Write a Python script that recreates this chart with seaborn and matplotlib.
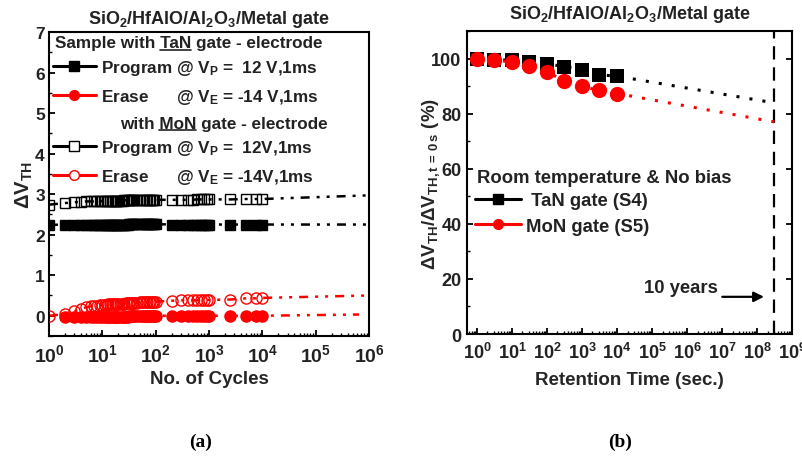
import numpy as np
import matplotlib
matplotlib.use("Agg")
import matplotlib.pyplot as plt
from matplotlib.lines import Line2D
from matplotlib.ticker import LogLocator, FixedLocator, MultipleLocator, NullFormatter
import seaborn as sns

# ---------------- data ----------------
cycles = [1, 2, 3, 4, 5, 6, 7, 8, 9, 10, 11, 12, 13, 14, 15, 16, 17, 18, 19, 20,
          22, 24, 26, 28, 30, 32, 34, 36, 38, 40,
          45, 50, 55, 60, 65, 70, 75, 80, 85, 90, 95, 100,
          200, 300, 400, 500, 600, 700, 800, 900, 1000,
          2500, 5000, 7500, 10000]
tan_program = [2.24, 2.25, 2.25, 2.25, 2.25, 2.25, 2.25, 2.25, 2.25, 2.25,
               2.25, 2.25, 2.25, 2.25, 2.25, 2.25, 2.25, 2.25, 2.25, 2.25,
               2.25, 2.25, 2.25, 2.25, 2.25, 2.26, 2.26, 2.26, 2.26, 2.26,
               2.26, 2.26, 2.26, 2.26, 2.26, 2.26, 2.26, 2.26, 2.26, 2.26, 2.26, 2.26,
               2.25, 2.25, 2.25, 2.25, 2.25, 2.25, 2.25, 2.25, 2.25,
               2.25, 2.25, 2.25, 2.25]
tan_erase = [np.nan, -0.04, -0.04, -0.04, -0.03, -0.03, -0.03, -0.03, -0.03, -0.03,
             -0.02, -0.02, -0.02, -0.02, -0.02, -0.02, -0.02, -0.02, -0.02, -0.02,
             -0.02, -0.02, -0.02, -0.02, -0.02, -0.01, -0.01, -0.01, -0.01, -0.01,
             -0.01, -0.01, -0.01, -0.01, -0.01, -0.01, 0.0, 0.0, 0.0, 0.0, 0.0, 0.0,
             0.0, 0.0, 0.0, 0.0, 0.0, 0.0, 0.0, 0.0, 0.0,
             0.0, 0.0, 0.0, 0.0]
mon_program = [2.74, 2.78, 2.80, 2.81, 2.82, 2.82, 2.82, 2.83, 2.83, 2.83,
               2.83, 2.83, 2.84, 2.84, 2.84, 2.84, 2.84, 2.84, 2.84, 2.84,
               2.84, 2.84, 2.85, 2.85, 2.85, 2.85, 2.85, 2.85, 2.85, 2.85,
               2.85, 2.85, 2.85, 2.85, 2.85, 2.85, 2.86, 2.86, 2.86, 2.86, 2.86, 2.86,
               2.86, 2.86, 2.86, 2.86, 2.87, 2.87, 2.87, 2.87, 2.87,
               2.87, 2.88, 2.88, 2.88]
mon_erase = [0.0, 0.04, 0.11, 0.17, 0.21, 0.23, 0.24, 0.25, 0.26, 0.27,
             0.27, 0.27, 0.28, 0.28, 0.28, 0.29, 0.29, 0.29, 0.29, 0.29,
             0.30, 0.30, 0.30, 0.31, 0.31, 0.31, 0.31, 0.32, 0.32, 0.32,
             0.32, 0.33, 0.33, 0.33, 0.34, 0.34, 0.34, 0.34, 0.35, 0.35, 0.35, 0.35,
             0.37, 0.38, 0.38, 0.38, 0.38, 0.39, 0.39, 0.39, 0.39,
             0.40, 0.43, 0.43, 0.44]
# extrapolation end points (cycles, value)
ext_tan_program = (1e6, 2.25)
ext_tan_erase = (6.5e5, 0.03)
ext_mon_program = (1e6, 2.97)
ext_mon_erase = (1e6, 0.50)

ret_time = [1, 3, 10, 30, 100, 300, 1000, 3000, 10000]
ret_tan = [100.0, 99.6, 99.4, 98.8, 98.1, 97.1, 96.0, 94.1, 93.6]
ret_mon = [99.9, 99.4, 98.8, 97.3, 95.2, 92.0, 89.9, 88.5, 87.3]
ten_years = 3.1536e8
ret_tan_10y = 83.9
ret_mon_10y = 77.0

left_yticks = [0, 1, 2, 3, 4, 5, 6, 7]
right_yticks = [0, 20, 40, 60, 80, 100]

# ---------------- style ----------------
sns.set_theme(style="ticks")
plt.rcParams["font.family"] = ["Liberation Sans", "DejaVu Sans"]
plt.rcParams["font.weight"] = "bold"
plt.rcParams["axes.labelweight"] = "bold"
plt.rcParams["axes.titleweight"] = "bold"
plt.rcParams["mathtext.fontset"] = "custom"
plt.rcParams["mathtext.rm"] = "Liberation Sans:bold"
plt.rcParams["mathtext.bf"] = "Liberation Sans:bold"
plt.rcParams["mathtext.it"] = "Liberation Sans:bold"
plt.rcParams["mathtext.sf"] = "Liberation Sans:bold"
plt.rcParams["mathtext.default"] = "rm"
plt.rcParams["text.color"] = "#222222"

RED = "#ff0000"
BLK = "#000000"
FS_L = 12.3   # left legend text
FS_R = 13.3   # right legend text

fig = plt.figure(figsize=(8.03, 4.6), dpi=100)
ax1 = fig.add_axes([49 / 803, 1 - 337 / 460, 320 / 803, 304 / 460])
ax2 = fig.add_axes([467 / 803, 1 - 335 / 460, 325 / 803, 303 / 460])

dashdotdot = (0, (3.6, 2.8, 1.2, 2.8, 1.2, 2.8))

# ---------------- left panel ----------------
def series_line(ax, xs, ys, ext, color):
    xx = [x for x, y in zip(xs, ys) if not np.isnan(y)] + [ext[0]]
    yy = [y for y in ys if not np.isnan(y)] + [ext[1]]
    sns.lineplot(x=xx, y=yy, ax=ax, color=color, lw=1.8, linestyle=dashdotdot,
                 sort=False, estimator=None, legend=False, zorder=2)

series_line(ax1, cycles, tan_program, ext_tan_program, BLK)
series_line(ax1, cycles, mon_program, ext_mon_program, BLK)
series_line(ax1, cycles, tan_erase, ext_tan_erase, RED)
series_line(ax1, cycles, mon_erase, ext_mon_erase, RED)

def markers(ax, xs, ys, color, marker, filled, ms):
    xx = [x for x, y in zip(xs, ys) if not np.isnan(y)]
    yy = [y for y in ys if not np.isnan(y)]
    sns.lineplot(x=xx, y=yy, ax=ax, color=color, linestyle="none", marker=marker,
                 markersize=ms, markerfacecolor=color if filled else "none",
                 markeredgecolor=color, markeredgewidth=1.0, sort=False,
                 estimator=None, legend=False, zorder=3)

markers(ax1, cycles, tan_program, BLK, "s", True, 7.3)
markers(ax1, cycles, mon_program, BLK, "s", False, 7.3)
markers(ax1, cycles, tan_erase, RED, "o", True, 8)
markers(ax1, cycles, mon_erase, RED, "o", False, 8)

ax1.set_xscale("log")
ax1.set_xlim(1, 1e6)
ax1.set_ylim(-0.5, 7)
ax1.yaxis.set_major_locator(FixedLocator(left_yticks))
ax1.yaxis.set_minor_locator(MultipleLocator(0.5))
ax1.xaxis.set_major_locator(LogLocator(base=10, numticks=20))
ax1.xaxis.set_minor_locator(LogLocator(base=10, subs=np.arange(2, 10), numticks=20))
ax1.xaxis.set_minor_formatter(NullFormatter())
ax1.set_xlabel("No. of Cycles", fontsize=13.5)
ax1.xaxis.set_label_coords(0.5, -0.112)
ax1.set_ylabel("ΔV$_{TH}$", fontsize=14.5)
ax1.yaxis.set_label_coords(-0.045, 0.5)
ax1.set_title("SiO$_2$/HfAlO/Al$_2$O$_3$/Metal gate", fontsize=13, pad=6.5)

# left legend
ax1.text(0.019, 0.964, "Sample with TaN gate - electrode", transform=ax1.transAxes,
         fontsize=FS_L, va="center", ha="left", zorder=5)
ax1.text(0.222, 0.700, "with MoN gate - electrode", transform=ax1.transAxes,
         fontsize=FS_L, va="center", ha="left", zorder=5)

h_tan_p = Line2D([], [], color=BLK, lw=2.2, marker="s", markersize=6.5, markerfacecolor=BLK)
h_tan_e = Line2D([], [], color=RED, lw=2.2, marker="o", markersize=7, markerfacecolor=RED)
h_mon_p = Line2D([], [], color=BLK, lw=2.2, marker="s", markersize=6.5,
                 markerfacecolor="white", markeredgewidth=1.0)
h_mon_e = Line2D([], [], color=RED, lw=2.2, marker="o", markersize=7,
                 markerfacecolor="white", markeredgewidth=1.0)
leg_kw = dict(loc="upper left", frameon=False, fontsize=FS_L, handlelength=2.5,
              handletextpad=0.3, borderpad=0, borderaxespad=0, labelspacing=0.57)
leg1 = ax1.legend([h_tan_p, h_tan_e],
                  ["Program @ V$_P$ =  12 V,1ms", "Erase      @ V$_E$ = -14 V,1ms"],
                  bbox_to_anchor=(0.0125, 0.915), **leg_kw)
ax1.add_artist(leg1)
leg2 = ax1.legend([h_mon_p, h_mon_e],
                  ["Program @ V$_P$ =  12V,1ms", "Erase      @ V$_E$ = -14V,1ms"],
                  bbox_to_anchor=(0.0125, 0.652), **leg_kw)

# ---------------- right panel ----------------
dotted = (0, (1, 3.3))
sns.lineplot(x=ret_time + [ten_years], y=ret_tan + [ret_tan_10y], ax=ax2, color=BLK,
             lw=2.2, linestyle=dotted, sort=False, estimator=None, legend=False, zorder=2)
sns.lineplot(x=ret_time + [ten_years], y=ret_mon + [ret_mon_10y], ax=ax2, color=RED,
             lw=2.2, linestyle=dotted, sort=False, estimator=None, legend=False, zorder=2)
sns.lineplot(x=ret_time, y=ret_tan, ax=ax2, color=BLK, linestyle="none", marker="s",
             markersize=9.5, markeredgewidth=0, sort=False, estimator=None, legend=False, zorder=3)
sns.lineplot(x=ret_time, y=ret_mon, ax=ax2, color=RED, linestyle="none", marker="o",
             markersize=11, markeredgewidth=0, sort=False, estimator=None, legend=False, zorder=4)
ax2.axvline(ten_years, color=BLK, lw=1.6, linestyle=(0, (6, 3.5)), zorder=1)

ax2.set_xscale("log")
ax2.set_xlim(0.52, 1e9)
ax2.set_ylim(0, 110)
ax2.yaxis.set_major_locator(FixedLocator(right_yticks))
ax2.yaxis.set_minor_locator(MultipleLocator(10))
ax2.xaxis.set_major_locator(LogLocator(base=10, numticks=20))
ax2.xaxis.set_minor_locator(LogLocator(base=10, subs=np.arange(2, 10), numticks=20))
ax2.xaxis.set_minor_formatter(NullFormatter())
ax2.set_xlabel("Retention Time (sec.)", fontsize=13.5)
ax2.xaxis.set_label_coords(0.5, -0.122)
ax2.set_ylabel("ΔV$_{TH}$/ΔV$_{TH,t\\,=\\,0\\,s}$ (%)", fontsize=13.5)
ax2.yaxis.set_label_coords(-0.077, 0.5)
ax2.set_title("SiO$_2$/HfAlO/Al$_2$O$_3$/Metal gate", fontsize=13, pad=9)

ax2.text(0.031, 0.518, "Room temperature & No bias", transform=ax2.transAxes,
         fontsize=FS_R, va="center", ha="left")
h_tan_r = Line2D([], [], color=BLK, lw=2.2, marker="s", markersize=6.5)
h_mon_r = Line2D([], [], color=RED, lw=2.2, marker="o", markersize=7)
ax2.legend([h_tan_r, h_mon_r], [" TaN gate (S4)", "MoN gate (S5)"], loc="upper left",
           bbox_to_anchor=(0.025, 0.467), frameon=False, fontsize=FS_R, handlelength=2.5,
           handletextpad=0.25, borderpad=0, borderaxespad=0, labelspacing=0.45)

ax2.annotate("", xy=(1.9e8, 13.5), xytext=(8.5e6, 13.5),
             arrowprops=dict(arrowstyle="-|>", color=BLK, lw=1.6, mutation_scale=15))
ax2.text(6.7e5, 17.0, "10 years", fontsize=FS_R, ha="center", va="center")

# ---------------- ticks & spines ----------------
for ax in (ax1, ax2):
    for s in ax.spines.values():
        s.set_visible(True)
        s.set_linewidth(1.5)
        s.set_color(BLK)
    ax.tick_params(which="major", direction="in", length=4, width=1.3,
                   color=BLK, labelcolor="#222222")
    ax.tick_params(which="minor", direction="in", length=2.5, width=1.0, color=BLK)
    ax.grid(False)
ax1.tick_params(axis="x", which="major", pad=5, labelsize=14)
ax1.tick_params(axis="y", which="major", pad=3, labelsize=12.5)
ax2.tick_params(axis="x", which="major", pad=6, labelsize=13)
ax2.tick_params(axis="y", which="major", pad=4, labelsize=13, right=True)
ax2.tick_params(axis="y", which="minor", right=False)

fig.text(201 / 803, 1 - 442 / 460, "(a)", fontsize=14, fontweight="bold",
         family=["Liberation Serif"], ha="center", va="center", color=BLK)
fig.text(620 / 803, 1 - 442 / 460, "(b)", fontsize=14, fontweight="bold",
         family=["Liberation Serif"], ha="center", va="center", color=BLK)

# underline "TaN" and "MoN" in headers
fig.canvas.draw()
renderer = fig.canvas.get_renderer()

def underline(ax, x, y, full_prefix, word, fs):
    t1 = ax.text(x, y, full_prefix, transform=ax.transAxes, fontsize=fs, va="center", ha="left")
    t2 = ax.text(x, y, word, transform=ax.transAxes, fontsize=fs, va="center", ha="left")
    b1 = t1.get_window_extent(renderer)
    b2 = t2.get_window_extent(renderer)
    t1.remove()
    t2.remove()
    x1 = b1.x1
    x0 = x1 - b2.width
    yline = b2.y0 + 0.5
    inv = fig.transFigure.inverted()
    (fx0, fy), (fx1, _) = inv.transform([(x0, yline), (x1, yline)])
    fig.add_artist(Line2D([fx0, fx1], [fy, fy], transform=fig.transFigure, color="#222222", lw=1.2))

underline(ax1, 0.019, 0.964, "Sample with TaN", "TaN", FS_L)
underline(ax1, 0.222, 0.700, "with MoN", "MoN", FS_L)

fig.savefig("out.png", dpi=100)
